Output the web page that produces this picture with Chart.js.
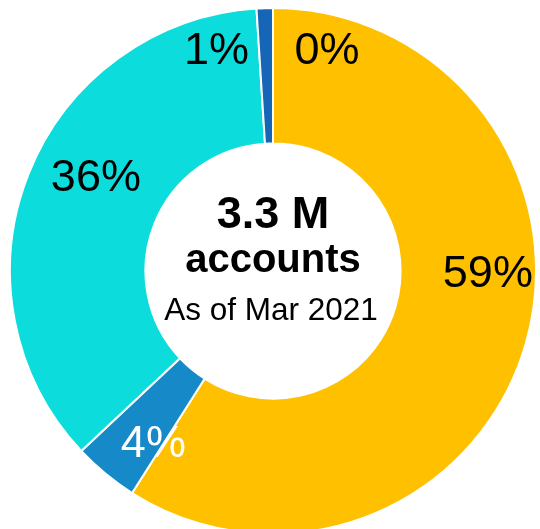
<!DOCTYPE html>
<html>
<head>
<meta charset="utf-8">
<script src="https://cdn.jsdelivr.net/npm/chart.js@4"></script>
<style>
    html, body { margin: 0; padding: 0; background: #fff; overflow: hidden; }
    #wrap { width: 540px; height: 529px; overflow: hidden; }
    canvas { display: block; }
</style>
</head>
<body>
<div id="wrap"><canvas id="accounts-chart" width="546" height="542"></canvas></div>
<script>
// Account share by segment, clockwise from 12 o'clock
const segments = ['Segment A', 'Segment B', 'Segment C', 'Segment D', 'Segment E'];
const shares = [0, 59, 4, 36, 1];
const sliceColors = ['#FFC000', '#FFC000', '#1689C8', '#0DDCDC', '#1566B6'];
const labelColors = ['#000', '#000', '#fff', '#000', '#000'];

// Text in the hole
const centerLines = ['3.3 M', 'accounts', 'As of Mar 2021'];

const FONT = '"Liberation Sans", Arial, Helvetica, sans-serif';

// Where each percent label sits: angle (deg, clockwise from top) and radius as a share of the outer radius
const labelSpots = [
    { angle: 13.6, r: 0.874 },
    { angle: 90, r: 0.817 },
    { angle: 215.2, r: 0.789 },
    { angle: 298.6, r: 0.767 },
    { angle: 345.8, r: 0.876 },
];

const percentLabels = {
    id: 'percentLabels',
    afterDatasetsDraw(chart) {
        const { ctx } = chart;
        const arcs = chart.getDatasetMeta(0).data;
        const size = 45;
        ctx.save();
        ctx.font = `${size}px ${FONT}`;
        ctx.textAlign = 'center';
        ctx.textBaseline = 'alphabetic';
        arcs.forEach((arc, i) => {
            const spot = labelSpots[i];
            const a = spot.angle * Math.PI / 180;
            const r = arc.outerRadius * spot.r;
            const x = arc.x + r * Math.sin(a);
            const y = arc.y - r * Math.cos(a);
            ctx.fillStyle = labelColors[i];
            ctx.fillText(`${shares[i]}%`, x, y + size * 0.358);
        });
        ctx.restore();
    }
};

const centerText = {
    id: 'centerText',
    afterDraw(chart) {
        const { ctx } = chart;
        const arc = chart.getDatasetMeta(0).data[0];
        const cx = arc.x, cy = arc.y;
        ctx.save();
        ctx.fillStyle = '#000';
        ctx.textAlign = 'center';
        ctx.textBaseline = 'alphabetic';
        ctx.font = `bold 45px ${FONT}`;
        ctx.fillText(centerLines[0], cx, cy - 43);
        ctx.font = `bold 40px ${FONT}`;
        ctx.fillText(centerLines[1], cx, cy + 1);
        ctx.font = `31.5px ${FONT}`;
        ctx.fillText(centerLines[2], cx - 2, cy + 49);
        ctx.restore();
    }
};

const ctx = document.getElementById('accounts-chart');
new Chart(ctx, {
    type: 'doughnut',
    data: {
        labels: segments,
        datasets: [{
            data: shares,
            backgroundColor: sliceColors,
            borderColor: '#fff',
            borderWidth: 2,
            hoverOffset: 0,
        }]
    },
    options: {
        responsive: false,
        animation: false,
        radius: 263,
        cutout: 131,
        layout: { padding: 0 },
        plugins: {
            legend: { display: false },
            tooltip: { enabled: false }
        },
        events: []
    },
    plugins: [percentLabels, centerText]
});
</script>
</body>
</html>
